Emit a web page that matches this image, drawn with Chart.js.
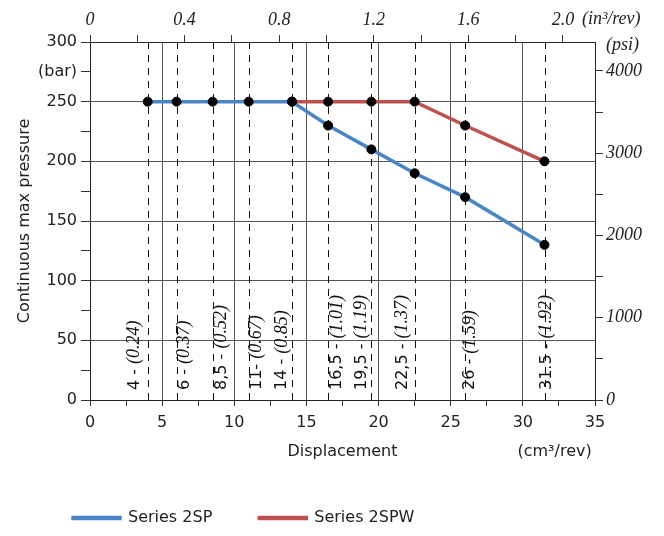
<!DOCTYPE html>
<html>
<head>
<meta charset="utf-8">
<script src="https://cdn.jsdelivr.net/npm/chart.js@4"></script>
<style>
  html, body { margin: 0; padding: 0; background: #fff; }
  #box { width: 664px; height: 536px; }
</style>
</head>
<body>
<div id="box"><canvas id="grafico" width="664" height="536"></canvas></div>
<script>
// Dados: deslocamento (cm3/rev) e pressão máxima contínua (bar)
const deslocamento = [4, 6, 8.5, 11, 14, 16.5, 19.5, 22.5, 26, 31.5];
const pressao2SP = [250, 250, 250, 250, 250, 230, 210, 190, 170, 130];
const deslocamento2SPW = [14, 16.5, 19.5, 22.5, 26, 31.5];
const pressao2SPW = [250, 250, 250, 250, 230, 200];

// Rótulos verticais de cada modelo: cm3 e (in3)
const rotulosCm = ['4 - ', '6 - ', '8,5 - ', '11- ', '14 - ', '16,5 - ', '19,5 - ', '22,5 - ', '26 - ', '31.5 - '];
const rotulosIn = ['(0.24)', '(0.37)', '(0.52)', '(0.67)', '(0.85)', '(1.01)', '(1.19)', '(1.37)', '(1.59)', '(1.92)'];

// Marcas dos eixos secundários (in3/rev em cima, psi à direita)
const marcasIn = [0, 0.2, 0.4, 0.6, 0.8, 1.0, 1.2, 1.4, 1.6, 1.8, 2.0];
const marcasPsi = [0, 500, 1000, 1500, 2000, 2500, 3000, 3500, 4000];

// Deslocamento horizontal (px) de cada rótulo em relação à linha tracejada
const ajusteRotulo = [-13, 8, 9, 8, -10, 9, -10, -12, 5, 2];

// Conversões para os eixos secundários
const CM3_POR_IN3 = 16.387;
const PSI_POR_BAR = 14.5038;

const AZUL = '#4a86c7';
const VERMELHO = '#c0504d';
const GRADE = '#555';
const TEXTO = '#222';
const SANS = 'DejaVu Sans';
const SERIF = 'Liberation Serif';

const pontos = (xs, ys) => xs.map((v, i) => ({ x: v, y: ys[i] }));
const multiplo = (v, passo) => Math.abs(v / passo - Math.round(v / passo)) < 1e-6;

// Linhas tracejadas, rótulos girados e textos de unidade
const extras = {
  id: 'extras',
  afterLayout(chart) {
    chart.legend.left += 26;
  },
  beforeDatasetsDraw(chart) {
    const { ctx, chartArea, scales: { x } } = chart;
    ctx.save();
    ctx.strokeStyle = '#111';
    ctx.lineWidth = 1;
    ctx.setLineDash([7, 6]);
    deslocamento.forEach(v => {
      const px = Math.round(x.getPixelForValue(v)) + 0.5;
      ctx.beginPath();
      ctx.moveTo(px, chartArea.top);
      ctx.lineTo(px, chartArea.bottom);
      ctx.stroke();
    });
    ctx.setLineDash([]);

    deslocamento.forEach((v, i) => {
      const px = x.getPixelForValue(v) + ajusteRotulo[i];
      ctx.save();
      ctx.translate(px, chartArea.bottom - 10);
      ctx.rotate(-Math.PI / 2);
      ctx.textBaseline = 'middle';
      ctx.textAlign = 'left';
      ctx.fillStyle = '#111';
      ctx.font = `16px "${SANS}"`;
      ctx.fillText(rotulosCm[i], 0, 0);
      const w = ctx.measureText(rotulosCm[i]).width;
      ctx.font = `italic 18px "${SERIF}"`;
      ctx.fillText(rotulosIn[i], w, 0);
      ctx.restore();
    });
    ctx.restore();
  },
  afterDraw(chart) {
    const { ctx, chartArea, scales: { x, x2 } } = chart;
    ctx.save();
    ctx.fillStyle = TEXTO;
    ctx.textBaseline = 'middle';
    ctx.textAlign = 'left';
    ctx.font = `italic 18px "${SERIF}"`;
    ctx.fillText('(in³/rev)', x2.getPixelForValue(2.0) + 19, 19);
    ctx.fillText('(psi)', chartArea.right + 11, chartArea.top + 3);
    ctx.textAlign = 'center';
    ctx.font = `16px "${SANS}"`;
    ctx.fillText('(cm³/rev)', x.getPixelForValue(32.2), 452);
    ctx.restore();
  }
};

new Chart(document.getElementById('grafico'), {
  type: 'scatter',
  data: {
    datasets: [
      {
        label: 'Series 2SP',
        data: pontos(deslocamento, pressao2SP),
        showLine: true,
        borderColor: AZUL,
        backgroundColor: AZUL,
        borderWidth: 3.5,
        pointRadius: 4.5,
        pointBackgroundColor: '#000',
        pointBorderColor: '#000',
        pointBorderWidth: 1,
        order: 2
      },
      {
        label: 'Series 2SPW',
        data: pontos(deslocamento2SPW, pressao2SPW),
        showLine: true,
        borderColor: VERMELHO,
        backgroundColor: VERMELHO,
        borderWidth: 3.5,
        pointRadius: 4.5,
        pointBackgroundColor: '#000',
        pointBorderColor: '#000',
        pointBorderWidth: 1,
        order: 1
      }
    ]
  },
  options: {
    responsive: false,
    animation: false,
    layout: { padding: 0 },
    plugins: {
      legend: {
        position: 'bottom',
        align: 'start',
        labels: {
          boxWidth: 47,
          boxHeight: 1,
          padding: 47,
          color: TEXTO,
          font: { family: SANS, size: 16 },
          sort: (a, b) => a.datasetIndex - b.datasetIndex
        }
      },
      tooltip: { enabled: false }
    },
    scales: {
      x: {
        type: 'linear',
        position: 'bottom',
        min: 0,
        max: 35,
        afterFit: s => { s.height = 63; },
        border: { color: TEXTO, width: 1 },
        grid: {
          color: c => (c.tick && multiplo(c.tick.value, 5)) ? GRADE : 'rgba(0,0,0,0)',
          tickColor: '#333',
          tickLength: 6
        },
        ticks: {
          stepSize: 2.5,
          autoSkip: false,
          maxRotation: 0,
          padding: 7,
          color: TEXTO,
          font: { family: SANS, size: 16 },
          callback: v => multiplo(v, 5) ? String(v) : ''
        },
        title: {
          display: true,
          text: 'Displacement',
          color: TEXTO,
          font: { family: SANS, size: 16 },
          padding: { top: 0, bottom: 1.5 }
        }
      },
      x2: {
        type: 'linear',
        position: 'top',
        min: 0,
        max: 35 / CM3_POR_IN3,
        afterFit: s => { s.height = 42; },
        afterBuildTicks: s => { s.ticks = marcasIn.map(v => ({ value: v })); },
        border: { color: TEXTO, width: 1 },
        grid: { drawOnChartArea: false, tickColor: '#333', tickLength: 7 },
        ticks: {
          autoSkip: false,
          maxRotation: 0,
          padding: 4,
          color: TEXTO,
          font: { family: SERIF, style: 'italic', size: 18 },
          callback: v => multiplo(v, 0.4) ? (v === 0 ? '0' : v.toFixed(1)) : ''
        }
      },
      y: {
        position: 'left',
        min: 0,
        max: 300,
        afterFit: s => { s.width = 90; },
        border: { color: TEXTO, width: 1 },
        grid: {
          color: c => (c.tick && multiplo(c.tick.value, 50)) ? GRADE : 'rgba(0,0,0,0)',
          tickColor: '#333',
          tickLength: 9
        },
        ticks: {
          stepSize: 25,
          autoSkip: false,
          padding: 4,
          color: TEXTO,
          font: { family: SANS, size: 16 },
          callback: v => v === 275 ? '(bar)' : (multiplo(v, 50) ? String(v) : '')
        },
        title: {
          display: true,
          text: 'Continuous max pressure',
          color: TEXTO,
          font: { family: SANS, size: 16 },
          padding: { top: 15, bottom: 0 }
        }
      },
      y2: {
        position: 'right',
        min: 0,
        max: 300 * PSI_POR_BAR,
        afterFit: s => { s.width = 69; },
        afterBuildTicks: s => { s.ticks = marcasPsi.map(v => ({ value: v })); },
        border: { color: TEXTO, width: 1 },
        grid: { drawOnChartArea: false, tickColor: '#333', tickLength: 8 },
        ticks: {
          autoSkip: false,
          padding: 3,
          color: TEXTO,
          font: { family: SERIF, style: 'italic', size: 18 },
          callback: v => multiplo(v, 1000) ? String(v) : ''
        }
      }
    }
  },
  plugins: [extras]
});
</script>
</body>
</html>
